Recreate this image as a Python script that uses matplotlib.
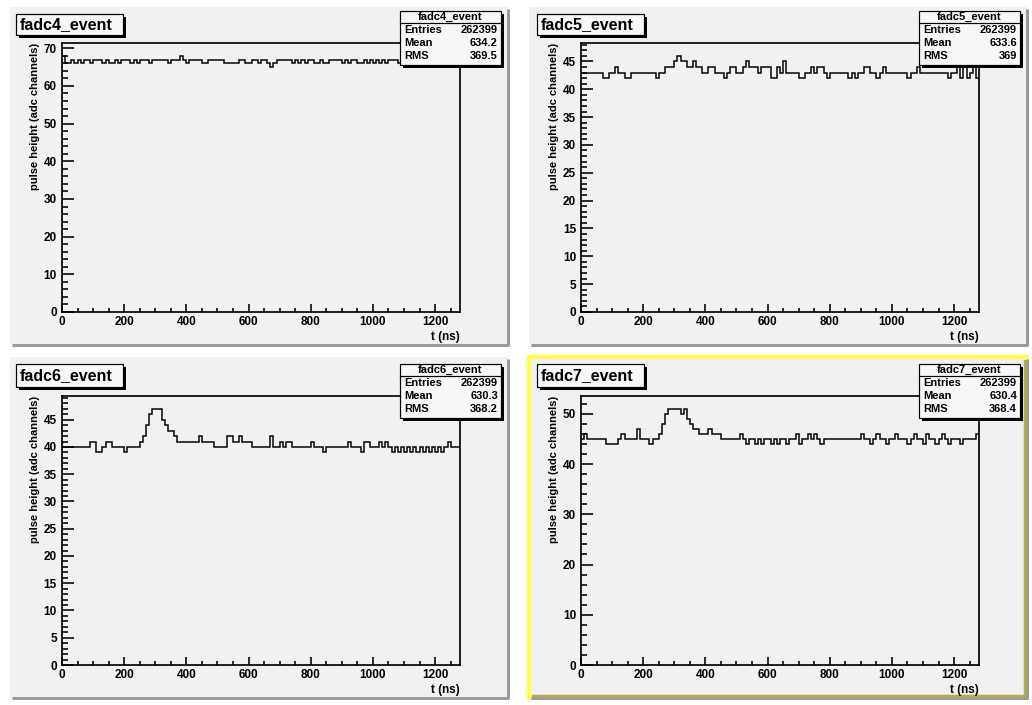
import numpy as np
import matplotlib.pyplot as plt
from matplotlib.patches import Rectangle
from matplotlib.ticker import MultipleLocator

plt.rcParams['font.family'] = ['Liberation Sans', 'DejaVu Sans']
plt.rcParams['font.weight'] = 'bold'

W, H = 1032, 705

# histogram binning (ns)
t_min, t_max, n_bins = 0, 1280, 128

names = ['fadc4_event', 'fadc5_event', 'fadc6_event', 'fadc7_event']
entries = ['262399', '262399', '262399', '262399']
means = ['634.2', '633.6', '630.3', '630.4']
rmss = ['369.5', '369', '368.2', '368.4']

fadc4 = [68, 66, 66, 67, 66, 67, 66, 67, 67, 66,
         67, 67, 67, 66, 67, 66, 66, 67, 66, 67,
         67, 67, 66, 67, 66, 67, 67, 67, 66, 67,
         67, 67, 67, 67, 66, 67, 67, 67, 68, 67,
         66, 67, 67, 67, 67, 66, 66, 67, 67, 67,
         67, 67, 66, 66, 66, 66, 66, 67, 67, 66,
         66, 67, 67, 66, 67, 67, 66, 65, 66, 67,
         67, 67, 67, 67, 66, 67, 66, 67, 66, 67,
         67, 66, 66, 67, 66, 66, 67, 67, 67, 67,
         66, 67, 66, 67, 67, 66, 66, 67, 66, 67,
         66, 67, 66, 67, 66, 67, 67, 67, 66, 67,
         67, 66, 67, 67, 66, 67, 66, 67, 67, 67,
         66, 67, 67, 66, 67, 67, 66, 67]

fadc5 = [43, 43, 43, 43, 43, 43, 43, 42, 42, 43,
         43, 44, 43, 43, 42, 42, 43, 43, 43, 43,
         43, 43, 43, 43, 42, 43, 43, 44, 44, 44,
         45, 46, 45, 45, 44, 44, 45, 44, 44, 43,
         43, 44, 44, 43, 43, 43, 42, 43, 44, 44,
         43, 43, 44, 45, 44, 44, 44, 43, 44, 44,
         44, 42, 42, 44, 43, 45, 43, 43, 43, 43,
         42, 42, 43, 43, 44, 43, 44, 44, 43, 42,
         43, 43, 43, 43, 43, 43, 42, 43, 42, 43,
         43, 44, 44, 43, 43, 42, 43, 44, 43, 43,
         43, 43, 43, 43, 43, 42, 43, 43, 44, 43,
         43, 43, 43, 43, 43, 43, 43, 43, 42, 43,
         43, 44, 42, 44, 42, 43, 44, 42]

fadc6 = [40, 40, 40, 40, 40, 40, 40, 40, 40, 41,
         41, 39, 39, 40, 41, 41, 40, 40, 40, 40,
         39, 40, 40, 40, 40, 41, 42, 44, 46, 47,
         47, 47, 45, 44, 43, 43, 42, 41, 41, 41,
         41, 41, 41, 41, 42, 41, 41, 41, 41, 40,
         40, 40, 40, 42, 42, 41, 41, 42, 41, 41,
         41, 40, 40, 40, 40, 40, 40, 42, 40, 40,
         41, 40, 41, 41, 40, 40, 40, 40, 40, 40,
         41, 40, 40, 40, 39, 40, 40, 40, 40, 40,
         40, 40, 41, 40, 40, 40, 39, 41, 41, 40,
         40, 40, 41, 40, 41, 40, 39, 40, 39, 40,
         39, 40, 39, 40, 39, 40, 39, 40, 39, 40,
         39, 40, 39, 40, 41, 40, 40, 40]

fadc7 = [45, 46, 45, 45, 45, 45, 45, 45, 44, 44,
         44, 44, 45, 46, 45, 45, 45, 45, 47, 45,
         45, 45, 44, 45, 45, 46, 48, 50, 51, 51,
         51, 51, 50, 51, 49, 48, 47, 47, 46, 46,
         46, 47, 46, 46, 46, 45, 45, 45, 45, 45,
         45, 46, 45, 44, 45, 45, 44, 45, 44, 45,
         45, 44, 45, 44, 45, 45, 44, 45, 45, 46,
         44, 45, 45, 46, 45, 46, 45, 44, 45, 45,
         45, 45, 45, 45, 45, 45, 45, 45, 45, 45,
         46, 45, 45, 44, 45, 46, 45, 45, 44, 45,
         45, 46, 45, 45, 45, 44, 45, 46, 45, 45,
         44, 46, 45, 45, 44, 45, 46, 45, 44, 45,
         45, 45, 44, 45, 45, 45, 45, 46]

series = [fadc4, fadc5, fadc6, fadc7]
y_major = [10, 5, 5, 10]
y_minor = [2, 1, 1, 2]

# layout in pixels: pad, frame, title box, stats box
pads = [(10, 7, 508, 345), (529, 7, 1027, 345),
        (10, 357, 508, 698), (529, 357, 1027, 698)]
frames = [(62, 43, 460, 312), (581, 43, 979, 312),
          (62, 396, 460, 665), (581, 396, 979, 665)]
tboxes = [(16, 14, 123, 35), (537, 14, 644, 35),
          (16, 364, 123, 387), (537, 364, 644, 387)]
sboxes = [(400, 11, 501, 65), (919, 11, 1020, 65),
          (400, 364, 501, 418), (919, 364, 1020, 418)]

PX = 0.72
pad_col = '#f1f1f1'

fig = plt.figure(figsize=(W / 100, H / 100), dpi=100)
fig.patch.set_facecolor('white')

bg = fig.add_axes([0, 0, 1, 1], zorder=0)
bg.set_xlim(0, W)
bg.set_ylim(H, 0)
bg.axis('off')

ov = fig.add_axes([0, 0, 1, 1], zorder=5)
ov.set_xlim(0, W)
ov.set_ylim(H, 0)
ov.axis('off')

edges = np.linspace(t_min, t_max, n_bins + 1)

for i in range(4):
    x0, y0, x1, y1 = pads[i]
    bg.add_patch(Rectangle((x0, y0), x1 - x0, y1 - y0, facecolor=pad_col, edgecolor='none'))
    # bevel shadow
    bg.plot([x0 + 2, x1, x1], [y1, y1, y0 + 2], color='#9a9a9a', lw=3 * PX, solid_capstyle='butt')
    if i == 3:
        bg.add_patch(Rectangle((x0, y0), x1 - x0, y1 - y0, facecolor='none',
                               edgecolor='#ffff44', lw=4 * PX))
        bg.plot([x0 + 3, x1 - 2, x1 - 2], [y1 - 2, y1 - 2, y0 + 3], color='#b5b040',
                lw=2.5 * PX, solid_capstyle='butt')

    fx0, fy0, fx1, fy1 = frames[i]
    ax = fig.add_axes([fx0 / W, 1 - fy1 / H, (fx1 - fx0) / W, (fy1 - fy0) / H], zorder=2)
    ax.set_facecolor('none')
    vals = series[i]
    ax.stairs(vals, edges, baseline=None, color='black', lw=1.5 * PX)
    ax.set_xlim(t_min, t_max)
    ax.set_ylim(0, 1.05 * max(vals))
    ax.xaxis.set_major_locator(MultipleLocator(200))
    ax.xaxis.set_minor_locator(MultipleLocator(50))
    ax.yaxis.set_major_locator(MultipleLocator(y_major[i]))
    ax.yaxis.set_minor_locator(MultipleLocator(y_minor[i]))
    for s in ax.spines.values():
        s.set_linewidth(1.7 * PX)
    ax.tick_params(axis='x', which='major', direction='in', length=8 * PX, width=1.6 * PX,
                   labelsize=8.5, pad=4 * PX, top=False)
    ax.tick_params(axis='x', which='minor', direction='in', length=4 * PX, width=1.6 * PX, top=False)
    ax.tick_params(axis='y', which='major', direction='in', length=12 * PX, width=1.6 * PX,
                   labelsize=8.5, pad=5 * PX, right=False)
    ax.tick_params(axis='y', which='minor', direction='in', length=6 * PX, width=1.6 * PX, right=False)
    for lab in ax.get_xticklabels() + ax.get_yticklabels():
        lab.set_fontweight('bold')

    ov.text(fx0 - 27, fy0, 'pulse height (adc channels)', rotation=90, ha='center', va='top',
            fontsize=8, fontweight='bold')
    ov.text(fx1, fy1 + 25, 't (ns)', ha='right', va='center', fontsize=8.5, fontweight='bold')

    # title box
    bx0, by0, bx1, by1 = tboxes[i]
    ov.add_patch(Rectangle((bx0 + 3, by0 + 3), bx1 - bx0, by1 - by0, facecolor='black', edgecolor='none'))
    ov.add_patch(Rectangle((bx0, by0), bx1 - bx0, by1 - by0, facecolor='#f7f7f7',
                           edgecolor='black', lw=1.2 * PX))
    ov.text(bx0 + 4, (by0 + by1) / 2 + 0.5, names[i], ha='left', va='center', fontsize=11.5,
            fontweight='bold')

    # stats box
    sx0, sy0, sx1, sy1 = sboxes[i]
    ov.add_patch(Rectangle((sx0 + 3, sy0 + 3), sx1 - sx0, sy1 - sy0, facecolor='black', edgecolor='none'))
    ov.add_patch(Rectangle((sx0, sy0), sx1 - sx0, sy1 - sy0, facecolor='#f7f7f7',
                           edgecolor='black', lw=1.2 * PX))
    ov.plot([sx0, sx1], [sy0 + 12, sy0 + 12], color='black', lw=1.2 * PX)
    ov.text((sx0 + sx1) / 2, sy0 + 6, names[i], ha='center', va='center', fontsize=8,
            fontweight='bold')
    rows = [('Entries', entries[i]), ('Mean', means[i]), ('RMS', rmss[i])]
    for k, (lab, val) in enumerate(rows):
        yy = sy0 + 19 + 13 * k
        ov.text(sx0 + 4, yy, lab, ha='left', va='center', fontsize=8, fontweight='bold')
        ov.text(sx1 - 3, yy, val, ha='right', va='center', fontsize=8, fontweight='bold')

fig.savefig('out.png', dpi=100)
